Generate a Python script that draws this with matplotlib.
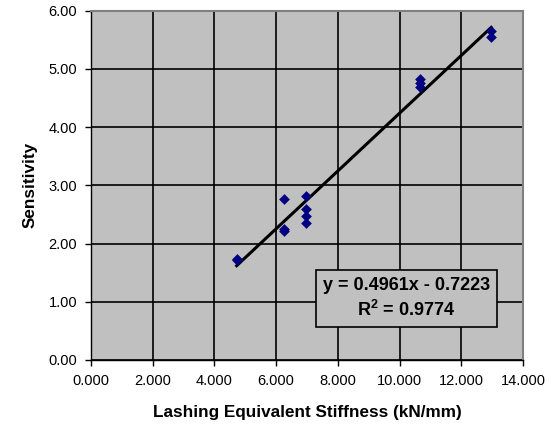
# import libraries
import matplotlib
matplotlib.use('Agg')

import numpy as np
import matplotlib.pyplot as plt

# data
stiffness = [4.72, 4.72, 6.25, 6.25, 6.25, 6.97, 6.97, 6.97, 6.97,
             10.65, 10.65, 10.65, 12.97, 12.97]
sensitivity = [1.74, 1.71, 2.76, 2.25, 2.22, 2.82, 2.60, 2.48, 2.35,
               4.83, 4.75, 4.68, 5.65, 5.55]
slope = 0.4961
intercept = -0.7223
r_squared = 0.9774

x_ticks = [0, 2, 4, 6, 8, 10, 12, 14]
y_ticks = [0, 1, 2, 3, 4, 5, 6]


def main():
    plt.rcParams['font.family'] = ['Liberation Sans', 'DejaVu Sans']
    plt.rcParams['mathtext.fontset'] = 'custom'
    plt.rcParams['mathtext.rm'] = 'Liberation Sans:bold'
    plt.rcParams['mathtext.bf'] = 'Liberation Sans:bold'

    fig = plt.figure(figsize=(5.57, 4.25), dpi=100)
    ax = fig.add_axes([0.1634, 0.153, 0.7756, 0.822])
    ax.set_facecolor('#C0C0C0')

    # grid
    ax.set_axisbelow(True)
    ax.grid(True, color='black', linewidth=1.2)

    # trend line
    xs = np.array([min(stiffness), max(stiffness)])
    ax.plot(xs, slope * xs + intercept, color='black', linewidth=2.2, zorder=3)

    # data points
    ax.scatter(stiffness, sensitivity, marker='D', s=30, color='#000080',
               zorder=4, linewidths=0)

    ax.set_xlim(0, 14)
    ax.set_ylim(0, 6)
    ax.set_xticks(x_ticks)
    ax.set_yticks(y_ticks)
    ax.set_xticklabels(['%.3f' % v for v in x_ticks])
    ax.set_yticklabels(['%.2f' % v for v in y_ticks])
    ax.tick_params(direction='out', length=4, width=1, labelsize=10.5,
                   colors='black', pad=6)

    for side in ['top', 'right']:
        ax.spines[side].set_color('#808080')
        ax.spines[side].set_linewidth(1.5)
    for side in ['left', 'bottom']:
        ax.spines[side].set_color('black')
        ax.spines[side].set_linewidth(1.0)

    ax.set_xlabel('Lashing Equivalent Stiffness (kN/mm)', fontsize=12.3,
                  fontweight='bold', labelpad=12)
    ax.set_ylabel('Sensitivity', fontsize=12.3, fontweight='bold', labelpad=8)

    # equation box
    label = 'y = %.4fx - %.4f\nR$^{2}$ = %.4f' % (slope, -intercept, r_squared)
    ax.text(10.22, 1.055, label, fontsize=13, fontweight='bold',
            ha='center', va='center', linespacing=1.35, zorder=5,
            bbox=dict(boxstyle='square,pad=0.4', facecolor='#C0C0C0',
                      edgecolor='black', linewidth=1.2))

    plt.savefig('out.png', dpi=100)


main()
